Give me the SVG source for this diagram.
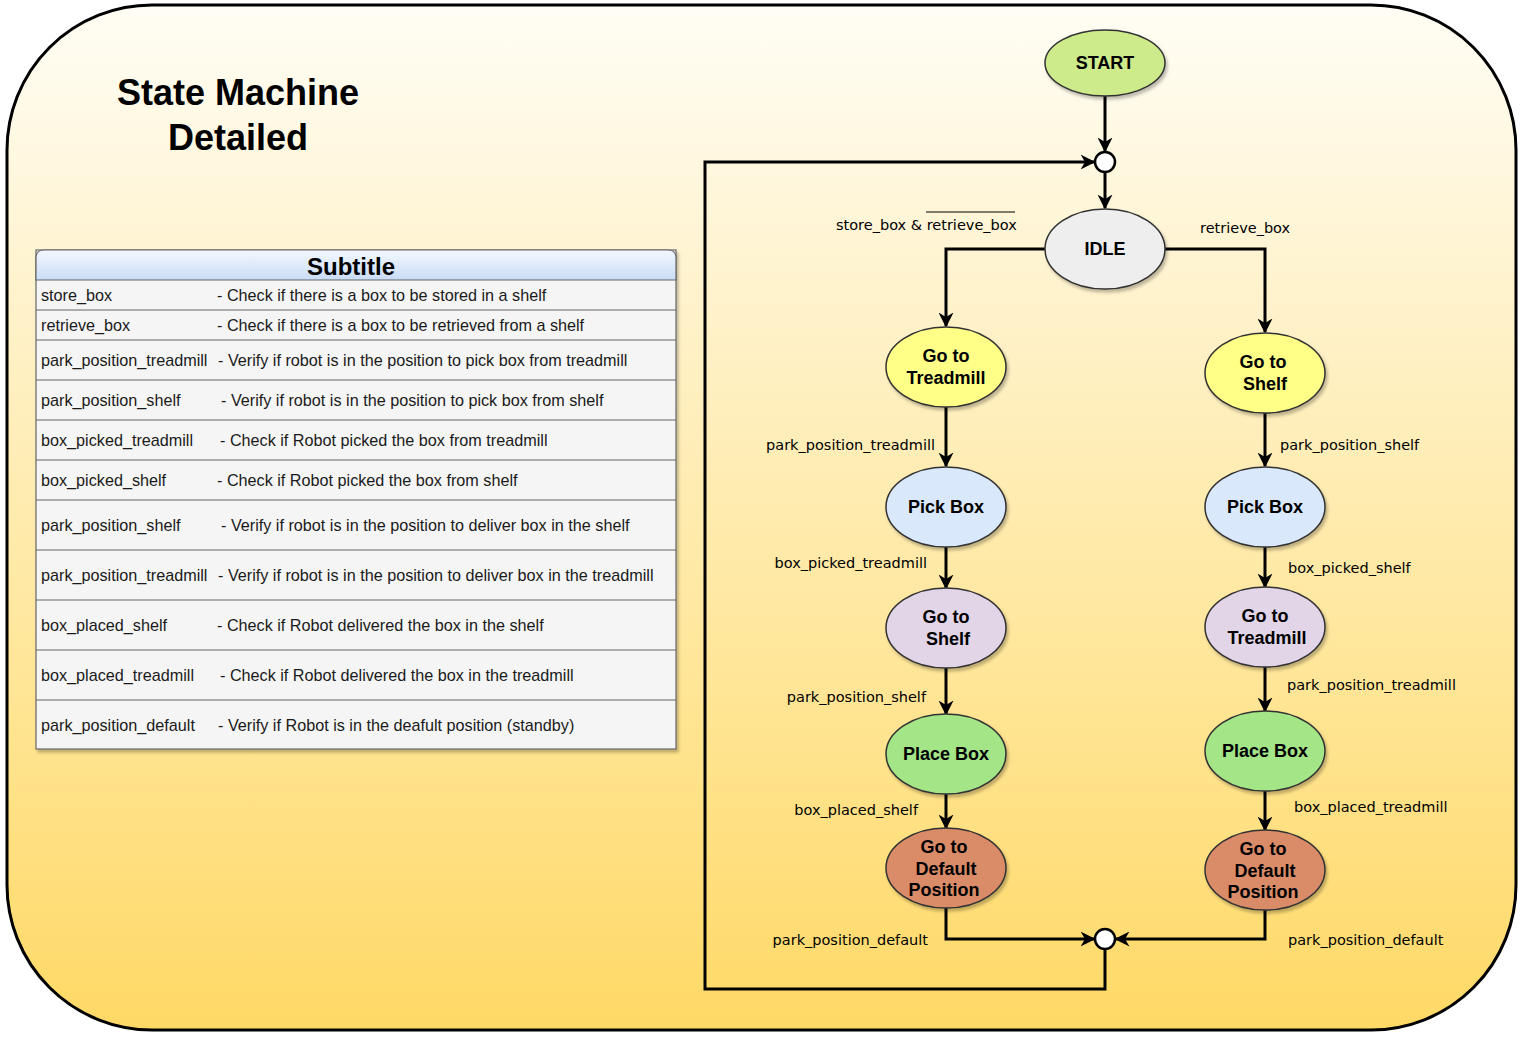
<svg xmlns="http://www.w3.org/2000/svg" width="1523" height="1039" viewBox="0 0 1523 1039">
<defs>
<linearGradient id="bg" x1="0" y1="0" x2="0" y2="1">
<stop offset="0" stop-color="#fffdf5"/>
<stop offset="1" stop-color="#ffd966"/>
</linearGradient>
<linearGradient id="hdr" x1="0" y1="0" x2="0" y2="1">
<stop offset="0" stop-color="#f4f8fe"/>
<stop offset="1" stop-color="#c9dcf6"/>
</linearGradient>
<filter id="sh" x="-20%" y="-20%" width="150%" height="150%">
<feDropShadow dx="2" dy="3" stdDeviation="1.5" flood-color="#000" flood-opacity="0.25"/>
</filter>
<marker id="arr" viewBox="0 0 10 10" refX="9" refY="5" markerWidth="5" markerHeight="5" orient="auto" markerUnits="strokeWidth">
<path d="M0,0 L10,5 L0,10 L3,5 z" fill="#000"/>
</marker>
</defs>
<style>
.node ellipse{stroke:#333;stroke-width:1.5;filter:url(#sh)}
.nt{font-family:"Liberation Sans",Arial,sans-serif;font-weight:bold;font-size:18px;fill:#000;text-anchor:middle}
.lbl{font-family:"DejaVu Sans",Verdana,sans-serif;font-size:14.5px;fill:#000}
.tb{font-family:"Liberation Sans",Arial,sans-serif;font-size:16.2px;fill:#1a1a1a}
.edge{fill:none;stroke:#000;stroke-width:3;marker-end:url(#arr)}
.row{stroke:#666;stroke-width:1.2}
</style>
<rect x="7" y="5" width="1509" height="1025" rx="145" ry="145" fill="url(#bg)" stroke="#000" stroke-width="3"/>
<g id="title">
<text x="238" y="105" text-anchor="middle" style="font-family:'Liberation Sans',Arial,sans-serif;font-weight:bold;font-size:36px">State Machine</text>
<text x="238" y="150" text-anchor="middle" style="font-family:'Liberation Sans',Arial,sans-serif;font-weight:bold;font-size:36px">Detailed</text>
</g>
<g id="table">
<rect x="36" y="250" width="640" height="499" fill="#f5f5f5" stroke="#666" stroke-width="1.2" filter="url(#sh)"/>
<path d="M36,280 V258 Q36,250 44,250 H668 Q676,250 676,258 V280 Z" fill="url(#hdr)" stroke="#666" stroke-width="1.2"/>
<text x="351" y="275" text-anchor="middle" style="font-family:'Liberation Sans',Arial,sans-serif;font-weight:bold;font-size:24px">Subtitle</text>
<g class="row">
<line x1="36" y1="310" x2="676" y2="310"/>
<line x1="36" y1="340" x2="676" y2="340"/>
<line x1="36" y1="380" x2="676" y2="380"/>
<line x1="36" y1="420" x2="676" y2="420"/>
<line x1="36" y1="460" x2="676" y2="460"/>
<line x1="36" y1="500" x2="676" y2="500"/>
<line x1="36" y1="550" x2="676" y2="550"/>
<line x1="36" y1="600" x2="676" y2="600"/>
<line x1="36" y1="650" x2="676" y2="650"/>
<line x1="36" y1="700" x2="676" y2="700"/>
</g>
<text class="tb" x="41" y="301">store_box</text><text class="tb" x="217" y="301">- Check if there is a box to be stored in a shelf</text>
<text class="tb" x="41" y="331">retrieve_box</text><text class="tb" x="217" y="331">- Check if there is a box to be retrieved from a shelf</text>
<text class="tb" x="41" y="366">park_position_treadmill</text><text class="tb" x="218" y="366">- Verify if robot is in the position to pick box from treadmill</text>
<text class="tb" x="41" y="406">park_position_shelf</text><text class="tb" x="221" y="406">- Verify if robot is in the position to pick box from shelf</text>
<text class="tb" x="41" y="446">box_picked_treadmill</text><text class="tb" x="220" y="446">- Check if Robot picked the box from treadmill</text>
<text class="tb" x="41" y="486">box_picked_shelf</text><text class="tb" x="217" y="486">- Check if Robot picked the box from shelf</text>
<text class="tb" x="41" y="531">park_position_shelf</text><text class="tb" x="221" y="531">- Verify if robot is in the position to deliver box in the shelf</text>
<text class="tb" x="41" y="581">park_position_treadmill</text><text class="tb" x="218" y="581">- Verify if robot is in the position to deliver box in the treadmill</text>
<text class="tb" x="41" y="631">box_placed_shelf</text><text class="tb" x="217" y="631">- Check if Robot delivered the box in the shelf</text>
<text class="tb" x="41" y="681">box_placed_treadmill</text><text class="tb" x="220" y="681">- Check if Robot delivered the box in the treadmill</text>
<text class="tb" x="41" y="731">park_position_default</text><text class="tb" x="218" y="731">- Verify if Robot is in the deafult position (standby)</text>
</g>
<g id="connectors">
<path class="edge" d="M1105,96 V151"/>
<path class="edge" d="M1105,172 V208"/>
<path class="edge" d="M1045,249 H946 V326"/>
<path class="edge" d="M1165,249 H1265 V332"/>
<path class="edge" d="M946,407 V466"/>
<path class="edge" d="M1265,413 V466"/>
<path class="edge" d="M946,547 V588"/>
<path class="edge" d="M1265,547 V587"/>
<path class="edge" d="M946,668 V714"/>
<path class="edge" d="M1265,667 V711"/>
<path class="edge" d="M946,794 V828"/>
<path class="edge" d="M1265,791 V830"/>
<path class="edge" d="M946,908 V939 H1094"/>
<path class="edge" d="M1265,910 V939 H1116"/>
<path class="edge" d="M1105,949 V989 H705 V162 H1094"/>
<g class="lbl">
<text x="836" y="230">store_box &amp; retrieve_box</text>
<line x1="926" y1="212" x2="1015" y2="212" stroke="#000" stroke-width="1"/>
<text x="1200" y="233">retrieve_box</text>
<text x="935" y="450" text-anchor="end">park_position_treadmill</text>
<text x="1280" y="450">park_position_shelf</text>
<text x="927" y="568" text-anchor="end">box_picked_treadmill</text>
<text x="1288" y="573">box_picked_shelf</text>
<text x="926" y="702" text-anchor="end">park_position_shelf</text>
<text x="1287" y="690">park_position_treadmill</text>
<text x="918" y="815" text-anchor="end">box_placed_shelf</text>
<text x="1294" y="812">box_placed_treadmill</text>
<text x="928" y="945" text-anchor="end">park_position_default</text>
<text x="1288" y="945">park_position_default</text>
</g>
</g>
<g id="start" class="node"><ellipse cx="1105" cy="63" rx="60" ry="33" fill="#cdeb8b"/><text class="nt" x="1105" y="69">START</text></g>
<g id="junction-top"><circle cx="1105" cy="162" r="10" fill="#fff" stroke="#000" stroke-width="2.5"/></g>
<g id="idle" class="node"><ellipse cx="1105" cy="249" rx="60" ry="40" fill="#eeeeee"/><text class="nt" x="1105" y="255">IDLE</text></g>
<g id="go-treadmill-l" class="node"><ellipse cx="946" cy="367" rx="60" ry="40" fill="#ffff88"/><text class="nt" x="946" y="362">Go to</text><text class="nt" x="946" y="384">Treadmill</text></g>
<g id="go-shelf-r" class="node"><ellipse cx="1265" cy="373" rx="60" ry="40" fill="#ffff88"/><text class="nt" x="1263" y="368">Go to</text><text class="nt" x="1265" y="390">Shelf</text></g>
<g id="pick-l" class="node"><ellipse cx="946" cy="507" rx="60" ry="40" fill="#dae8fc"/><text class="nt" x="946" y="513">Pick Box</text></g>
<g id="pick-r" class="node"><ellipse cx="1265" cy="507" rx="60" ry="40" fill="#dae8fc"/><text class="nt" x="1265" y="513">Pick Box</text></g>
<g id="go-shelf-l" class="node"><ellipse cx="946" cy="628" rx="60" ry="40" fill="#e1d5e7"/><text class="nt" x="946" y="623">Go to</text><text class="nt" x="948" y="645">Shelf</text></g>
<g id="go-treadmill-r" class="node"><ellipse cx="1265" cy="627" rx="60" ry="40" fill="#e1d5e7"/><text class="nt" x="1265" y="622">Go to</text><text class="nt" x="1267" y="644">Treadmill</text></g>
<g id="place-l" class="node"><ellipse cx="946" cy="754" rx="60" ry="40" fill="#a3e587"/><text class="nt" x="946" y="760">Place Box</text></g>
<g id="place-r" class="node"><ellipse cx="1265" cy="751" rx="60" ry="40" fill="#a3e587"/><text class="nt" x="1265" y="757">Place Box</text></g>
<g id="default-l" class="node"><ellipse cx="946" cy="868" rx="60" ry="40" fill="#da8b67"/><text class="nt" x="944" y="853">Go to</text><text class="nt" x="946" y="875">Default</text><text class="nt" x="944" y="896">Position</text></g>
<g id="default-r" class="node"><ellipse cx="1265" cy="870" rx="60" ry="40" fill="#da8b67"/><text class="nt" x="1263" y="855">Go to</text><text class="nt" x="1265" y="877">Default</text><text class="nt" x="1263" y="898">Position</text></g>
<g id="junction-bottom"><circle cx="1105" cy="939" r="10" fill="#fff" stroke="#000" stroke-width="2.5"/></g>
</svg>
